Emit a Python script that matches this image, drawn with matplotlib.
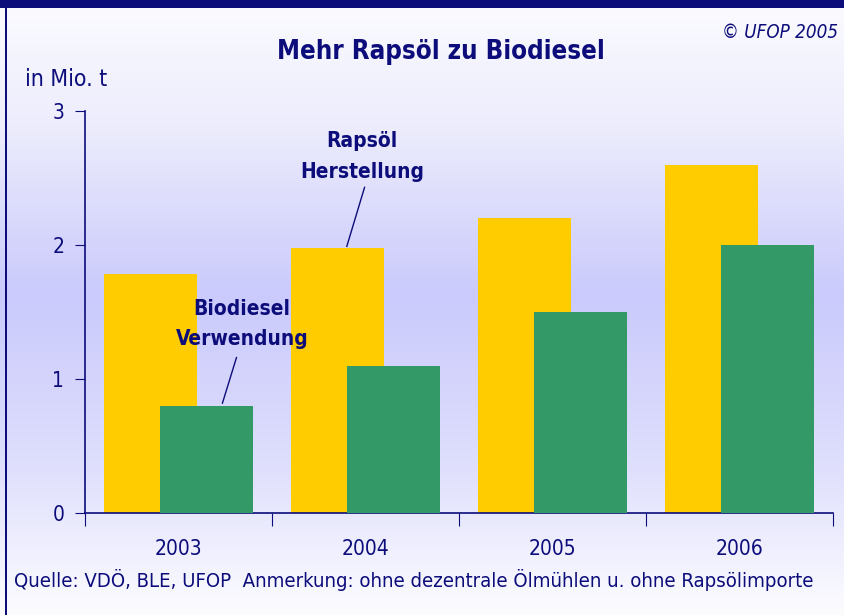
import numpy as np
import matplotlib
matplotlib.use("Agg")
import matplotlib.pyplot as plt
from matplotlib.colors import LinearSegmentedColormap

plt.rcParams['font.family'] = ['DejaVu Sans']
plt.rcParams['font.stretch'] = 'condensed'

years = ["2003", "2004", "2005", "2006"]
rapsoel = [1.78, 1.98, 2.2, 2.6]
biodiesel = [0.8, 1.1, 1.5, 2.0]
yticks = [0, 1, 2, 3]

navy = "#0c0c7a"
W, H = 845, 615
fig = plt.figure(figsize=(W / 100, H / 100), dpi=100)

# background gradient
bg = fig.add_axes([0, 0, 1, 1])
cmap = LinearSegmentedColormap.from_list(
    "bg", [(0.0, "#fbfbff"), (0.2, "#ededfd"), (0.48, "#cacafc"),
           (0.75, "#dedefd"), (1.0, "#fcfcff")])
grad = np.linspace(1, 0, 256).reshape(-1, 1)
bg.imshow(grad, aspect="auto", cmap=cmap, extent=[0, 1, 0, 1], origin="lower")
bg.set_xlim(0, 1); bg.set_ylim(0, 1)
bg.axis("off")
bg.add_patch(plt.Rectangle((0, 1 - 8 / H), 1, 8 / H, color=navy, lw=0))
bg.add_patch(plt.Rectangle((5 / W, 0), 2 / W, 1, color=navy, lw=0))

ax = fig.add_axes([85 / W, (H - 513) / H, (833 - 85) / W, (513 - 111) / H])
ax.patch.set_alpha(0)
x = np.arange(len(years))
ax.bar(x - 0.15, rapsoel, width=0.5, color="#ffcc00", lw=0, zorder=2)
ax.bar(x + 0.15, biodiesel, width=0.5, color="#339966", lw=0, zorder=3)
ax.set_xlim(-0.5, 3.5)
ax.set_ylim(0, 3)
ax.set_yticks(yticks)
ax.set_yticklabels([str(v) for v in yticks])
ax.set_xticks(np.arange(-0.5, 4, 1))
ax.set_xticklabels([])
for i, y in enumerate(years):
    ax.text(i, -0.27, y, ha="center", va="center", fontsize=15, color=navy)
for s in ["top", "right"]:
    ax.spines[s].set_visible(False)
for s in ["left", "bottom"]:
    ax.spines[s].set_color(navy)
    ax.spines[s].set_linewidth(1.2)
ax.tick_params(axis="y", direction="out", length=7, color=navy, labelcolor=navy,
               labelsize=15, pad=8)
ax.tick_params(axis="x", direction="out", length=9, color=navy)

# annotations
ax.plot([0.90, 0.995], [1.99, 2.43], color=navy, lw=1, zorder=4)
ax.text(0.98, 2.66, "Rapsöl\nHerstellung", ha="center", va="center", fontsize=15,
        fontweight="bold", color=navy, linespacing=1.65, zorder=5)
ax.plot([0.235, 0.31], [0.82, 1.16], color=navy, lw=1, zorder=4)
ax.text(0.34, 1.41, "Biodiesel\nVerwendung", ha="center", va="center", fontsize=15,
        fontweight="bold", color=navy, linespacing=1.65, zorder=5)

fig.text(441 / W, 1 - 52 / H, "Mehr Rapsöl zu Biodiesel", ha="center", va="center",
         fontsize=18.5, fontweight="bold", color=navy)
fig.text(838 / W, 1 - 33 / H, "© UFOP 2005", ha="right", va="center",
         fontsize=13.5, fontstyle="italic", color=navy)
fig.text(25 / W, 1 - 80 / H, "in Mio. t", ha="left", va="center",
         fontsize=16.5, color=navy)
fig.text(14 / W, 1 - 580 / H,
         "Quelle: VDÖ, BLE, UFOP  Anmerkung: ohne dezentrale Ölmühlen u. ohne Rapsölimporte",
         ha="left", va="center", fontsize=14.6, color=navy)

fig.savefig("out.png", dpi=100)
